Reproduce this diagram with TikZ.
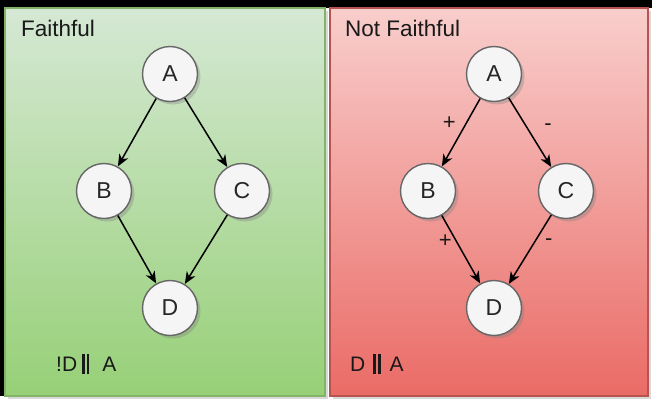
\documentclass[tikz,border=0pt]{standalone}
\usepackage{fontspec}
\setmainfont{Liberation Sans}
\usetikzlibrary{arrows.meta,positioning,shadows}
\definecolor{greentop}{HTML}{D5E8D4}
\definecolor{greenbot}{HTML}{97D077}
\definecolor{greenline}{HTML}{82B366}
\definecolor{redtop}{HTML}{F8CECC}
\definecolor{redbot}{HTML}{EA6B66}
\definecolor{redline}{HTML}{B85450}
\definecolor{nodefill}{HTML}{F5F5F5}
\definecolor{nodeline}{HTML}{666666}
\newcommand{\indep}{\rule[-3pt]{2.6pt}{20pt}\kern2pt\rule[-3pt]{2.6pt}{20pt}}
\tikzstyle{greenpanel} = [rectangle, minimum width=320pt, minimum height=388pt, top color=greentop, bottom color=greenbot, draw=greenline, line width=1.4pt, drop shadow={shadow xshift=3pt, shadow yshift=-3pt, opacity=0.3}]
\tikzstyle{redpanel} = [rectangle, minimum width=318pt, minimum height=388pt, top color=redtop, bottom color=redbot, draw=redline, line width=1.4pt, drop shadow={shadow xshift=3pt, shadow yshift=-3pt, opacity=0.3}]
\tikzstyle{var} = [circle, minimum size=55pt, inner sep=0pt, fill=nodefill, draw=nodeline, line width=1.4pt, font=\fontsize{23}{25}\selectfont, text=black!85, drop shadow={shadow xshift=3pt, shadow yshift=-3pt, opacity=0.35}]
\tikzstyle{title} = [anchor=west, inner sep=0pt, font=\fontsize{22.5}{24}\selectfont, text=black!90]
\tikzstyle{note} = [anchor=west, inner sep=0pt, font=\fontsize{21}{24}\selectfont, text=black!90]
\tikzstyle{sign} = [inner sep=0pt, font=\fontsize{22}{24}\selectfont, text=black!90]
\tikzstyle{edge} = [line width=1.5pt]

\begin{document}
\begin{tikzpicture}[x=1pt, y=-1pt, >={Stealth[length=12pt, width=10pt, inset=3.5pt]}, node distance=117pt and 66pt, on grid]
	\useasboundingbox (0,0) rectangle (652,402);
	\fill[black] (0,0) rectangle (652,8);
	\fill[black] (0,0) rectangle (4,396);

	% panels
	\node[greenpanel] (faith) at (165,202) {};
	\node[redpanel] (notfaith) at (489,202) {};
	\node[title] (faithtitle) at (21,28) {Faithful};
	\node[title] (notfaithtitle) at (345,28) {Not Faithful};

	% faithful graph
	\node[var] (gA) at (170,74) {A};
	\node[var, below left=of gA] (gB) {B};
	\node[var, below right=117pt and 72pt of gA] (gC) {C};
	\node[var, below right=of gB] (gD) {D};
	\node[note] (gnote) at (56,364) {!D\kern5pt\indep\kern13pt A};

	% not faithful graph
	\node[var] (rA) at (494,74) {A};
	\node[var, below left=of rA] (rB) {B};
	\node[var, below right=117pt and 72pt of rA] (rC) {C};
	\node[var, below right=of rB] (rD) {D};
	\node[note] (rnote) at (350,364) {D\kern8pt\indep\kern9pt A};

	%arrow
	\draw [->, edge] (gA) -- (gB);
	\draw [->, edge] (gA) -- (gC);
	\draw [->, edge] (gB) -- (gD);
	\draw [->, edge] (gC) -- (gD);

	\draw [->, edge] (rA) -- node[sign, pos=0.36, left=10pt] {+} (rB);
	\draw [->, edge] (rA) -- node[sign, pos=0.42, right=17pt] {-} (rC);
	\draw [->, edge] (rB) -- node[sign, pos=0.38, left=4pt] {+} (rD);
	\draw [->, edge] (rC) -- node[sign, pos=0.4, right=10pt] {-} (rD);
\end{tikzpicture}
\end{document}
